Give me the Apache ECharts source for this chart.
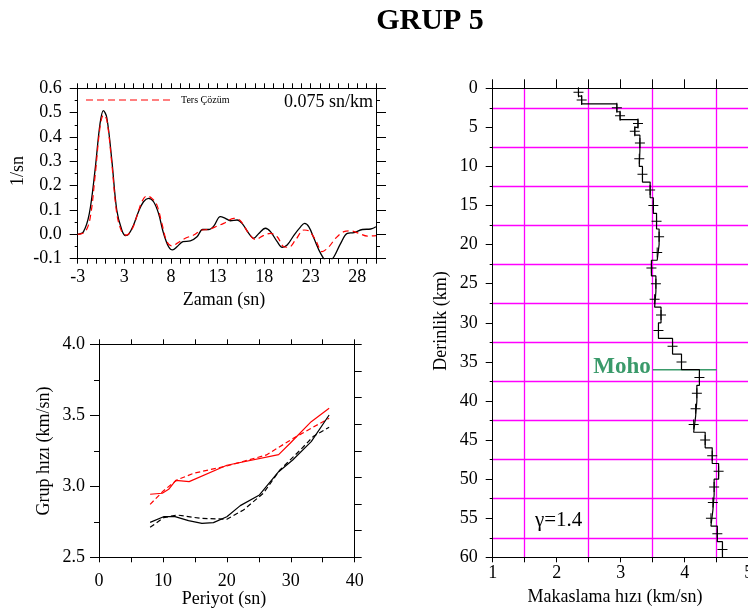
<!DOCTYPE html>
<html><head><meta charset="utf-8">
<script src="https://cdn.jsdelivr.net/npm/echarts@6/dist/echarts.min.js"></script>
<style>html,body{margin:0;padding:0;background:#fff}#c{width:748px;height:611px}</style>
</head><body><div id="c"></div>
<script>
// ---------- Panel 1: receiver function ----------
// time in tick units (left edge of the frame = -2, shown as "-3")
const rfAxisStart = -2;
const rfXTickLabels = ['-3', '3', '8', '13', '18', '23', '28'];
const rfObsTime = [-2, -1.39, -0.75, -0.14, 0.40, 0.76, 1.12, 1.66, 2.19, 2.73, 3.13, 3.48, 3.99, 4.52, 5.06, 5.6, 6.14, 6.67, 7.21, 7.75, 8.18, 8.65, 9.29, 10.08, 10.8, 11.4, 12.05, 12.59, 13.3, 13.84, 14.38, 15.1, 15.63, 16.35, 16.89, 17.43, 18.14, 18.68, 19.4, 19.94, 20.47, 21.19, 21.91, 22.34, 22.8, 23.34, 24.06, 24.77, 25.13, 25.49, 26.21, 26.92, 27.64, 28.54, 29.43, 30.0];
const rfObsAmp = [0, 0.01, 0.086, 0.264, 0.456, 0.508, 0.48, 0.305, 0.1, 0.018, -0.005, 0.001, 0.038, 0.093, 0.134, 0.148, 0.134, 0.086, 0.004, -0.051, -0.064, -0.051, -0.03, -0.027, -0.01, 0.02, 0.02, 0.034, 0.073, 0.066, 0.056, 0.059, 0.045, 0.004, -0.016, 0.004, 0.025, 0.011, -0.03, -0.053, -0.044, -0.004, 0.031, 0.045, 0.031, -0.016, -0.078, -0.112, -0.108, -0.092, -0.037, 0.004, 0.007, 0.02, 0.022, 0.031];
const rfInvTime = [-2, -1.21, -0.67, -0.14, 0.4, 0.76, 1.12, 1.66, 2.19, 2.73, 3.2, 3.81, 4.34, 4.88, 5.42, 5.96, 6.49, 7.03, 7.57, 8.11, 8.65, 9.54, 10.44, 11.33, 12.05, 12.95, 13.66, 14.74, 15.45, 16.35, 17.07, 17.96, 18.68, 19.4, 20.11, 20.65, 21.37, 22.27, 22.8, 23.52, 24.23, 24.95, 25.67, 26.56, 27.28, 28.18, 29.08, 30.0];
const rfInvAmp = [0, 0.01, 0.066, 0.237, 0.442, 0.49, 0.47, 0.29, 0.086, 0.011, -0.003, 0.02, 0.073, 0.134, 0.158, 0.148, 0.121, 0.045, -0.03, -0.048, -0.037, -0.016, -0.003, 0.018, 0.02, 0.034, 0.045, 0.066, 0.056, 0.004, -0.021, -0.004, 0.004, -0.01, -0.051, -0.053, -0.023, 0.018, 0.014, -0.023, -0.071, -0.051, -0.016, 0.011, 0.014, 0.004, -0.007, -0.005];
const rfLegendName = 'Ters Çözüm';
const slownessText = '0.075 sn/km';

// ---------- Panel 2: group velocity dispersion ----------
const redSolidPeriod = [8, 9.9, 10.9, 12, 14.1, 20, 28.1, 29.9, 33.2, 36];
const redSolidVel = [2.944, 2.951, 2.979, 3.042, 3.033, 3.148, 3.223, 3.303, 3.455, 3.549];
const redDashPeriod = [8, 10.1, 12.2, 14.8, 20, 26.2, 30.4, 36];
const redDashVel = [2.873, 2.969, 3.045, 3.092, 3.143, 3.221, 3.338, 3.479];
const blackSolidPeriod = [8, 10.1, 11.9, 14, 16.1, 17.9, 20, 22.1, 25.1, 28.1, 30.3, 33.2, 36];
const blackSolidVel = [2.746, 2.786, 2.786, 2.758, 2.739, 2.744, 2.786, 2.864, 2.939, 3.103, 3.185, 3.315, 3.502];
const blackDashPeriod = [8, 10.1, 12.2, 15.8, 20, 22.6, 25.7, 28.3, 31.5, 33.5, 36];
const blackDashVel = [2.711, 2.779, 2.798, 2.775, 2.768, 2.833, 2.951, 3.115, 3.256, 3.35, 3.416];

// ---------- Panel 3: shear-velocity model ----------
const layerBounds = [0, 1, 2, 3, 4, 5, 6, 8, 10, 12, 14, 16, 18, 20, 22, 24, 26, 28, 30, 32, 34, 36, 38, 40, 42, 44, 46, 48, 50, 52, 54, 56, 58, 60];
const layerVs = [2.34, 2.39, 2.94, 2.99, 3.27, 3.22, 3.30, 3.29, 3.34, 3.46, 3.51, 3.56, 3.60, 3.57, 3.48, 3.55, 3.53, 3.63, 3.59, 3.81, 3.95, 4.23, 4.19, 4.17, 4.14, 4.32, 4.43, 4.53, 4.46, 4.44, 4.41, 4.51, 4.59];
const mohoDepth = 36;
const mohoVsRange = [3.5, 4.5];
const gammaText = 'γ=1.4';

// ---------- build ----------
const SERIF = '"Liberation Serif", "DejaVu Serif", serif';
const pair = (xs, ys, off) => xs.map((x, i) => [x - (off || 0), ys[i]]);
const stepLine = [];
const crosses = [];
layerVs.forEach((v, i) => {
  stepLine.push([v, layerBounds[i]], [v, layerBounds[i + 1]]);
  crosses.push([v, (layerBounds[i] + layerBounds[i + 1]) / 2]);
});

const lbl = (extra) => Object.assign({ color: '#000', fontFamily: SERIF, fontSize: 18 }, extra);
const axLine = { show: true, onZero: false, lineStyle: { color: '#000', width: 1 } };
const noSplit = { show: false };
const tick = (len) => ({ show: true, length: len, lineStyle: { color: '#000', width: 1 } });
const minor = (n, len) => ({ show: true, splitNumber: n, length: len, lineStyle: { color: '#000', width: 1 } });

const chart = echarts.init(document.getElementById('c'), null, { renderer: 'canvas' });
const option = {
  backgroundColor: '#fff',
  animation: false,
  grid: [
    { left: 77.7, top: 88.3, width: 298.3, height: 170.4, outerBoundsMode: 'none', containLabel: false },
    { left: 99, top: 344.3, width: 255.7, height: 213, outerBoundsMode: 'none', containLabel: false },
    { left: 492.7, top: 88.3, width: 256, height: 469, outerBoundsMode: 'none', containLabel: false }
  ],
  xAxis: [
    { gridIndex: 0, type: 'value', position: 'bottom', min: 0, max: 32, interval: 5,
      axisLine: axLine, splitLine: noSplit, axisTick: tick(5), minorTick: minor(5, 5),
      axisLabel: lbl({ margin: 10, formatter: v => rfXTickLabels[v / 5] !== undefined ? rfXTickLabels[v / 5] : '' }) },
    { gridIndex: 0, type: 'value', position: 'top', min: 0, max: 32, interval: 5,
      axisLine: axLine, splitLine: noSplit, axisLabel: { show: false },
      axisTick: tick(5), minorTick: minor(5, 5) },
    { gridIndex: 1, type: 'value', position: 'bottom', min: 0, max: 40, interval: 10,
      axisLine: axLine, splitLine: noSplit, axisTick: tick(5), minorTick: minor(2, 5),
      axisLabel: lbl({ margin: 15 }) },
    { gridIndex: 1, type: 'value', position: 'top', min: 0, max: 40, interval: 5,
      axisLine: axLine, splitLine: noSplit, axisLabel: { show: false }, axisTick: tick(5) },
    { gridIndex: 2, type: 'value', position: 'bottom', min: 1, max: 5, interval: 1,
      axisLine: axLine, splitLine: noSplit, axisTick: tick(5), minorTick: minor(2, 5),
      minorSplitLine: { show: true, lineStyle: { color: '#ff00ff', width: 1.3 } },
      axisLabel: lbl({ margin: 7 }) },
    { gridIndex: 2, type: 'value', position: 'top', min: 1, max: 5, interval: 0.5,
      axisLine: axLine, splitLine: noSplit, axisLabel: { show: false }, axisTick: tick(9) }
  ],
  yAxis: [
    { gridIndex: 0, type: 'value', position: 'left', min: -0.1, max: 0.6, interval: 0.1,
      axisLine: axLine, splitLine: noSplit, axisTick: tick(8), minorTick: minor(2, 3),
      axisLabel: lbl({ margin: 16, formatter: v => (Math.abs(v) < 1e-9 ? 0 : v).toFixed(1) }) },
    { gridIndex: 0, type: 'value', position: 'right', min: -0.1, max: 0.6, interval: 0.1,
      axisLine: axLine, splitLine: noSplit, axisLabel: { show: false },
      axisTick: tick(10), minorTick: minor(2, 4) },
    { gridIndex: 1, type: 'value', position: 'left', min: 2.5, max: 4.0, interval: 0.5,
      axisLine: axLine, splitLine: noSplit, axisTick: tick(9), minorTick: minor(2, 5),
      axisLabel: lbl({ margin: 14, formatter: v => v.toFixed(1) }) },
    { gridIndex: 1, type: 'value', position: 'right', min: 0, max: 8, interval: 1,
      axisLine: axLine, splitLine: noSplit, axisLabel: { show: false }, axisTick: tick(7) },
    { gridIndex: 2, type: 'value', position: 'left', min: 0, max: 60, interval: 5, inverse: true,
      axisLine: axLine, splitLine: noSplit, axisTick: tick(7), minorTick: minor(2, 3),
      minorSplitLine: { show: true, lineStyle: { color: '#ff00ff', width: 1.3 } },
      axisLabel: lbl({ margin: 15 }) }
  ],
  series: [
    { type: 'line', xAxisIndex: 0, yAxisIndex: 0, data: pair(rfObsTime, rfObsAmp, rfAxisStart),
      smooth: 0.35, symbol: 'none', lineStyle: { color: '#000', width: 1.3 }, z: 3 },
    { name: rfLegendName, type: 'line', xAxisIndex: 0, yAxisIndex: 0, data: pair(rfInvTime, rfInvAmp, rfAxisStart),
      smooth: 0.35, symbol: 'none', itemStyle: { color: '#ff0000' },
      lineStyle: { color: '#ff0000', width: 1.2, type: [6, 4] }, z: 4 },

    { type: 'line', xAxisIndex: 2, yAxisIndex: 2, data: pair(redSolidPeriod, redSolidVel), symbol: 'none',
      lineStyle: { color: '#ff0000', width: 1.2 } },
    { type: 'line', xAxisIndex: 2, yAxisIndex: 2, data: pair(redDashPeriod, redDashVel), symbol: 'none',
      lineStyle: { color: '#ff0000', width: 1.2, type: [5, 3] } },
    { type: 'line', xAxisIndex: 2, yAxisIndex: 2, data: pair(blackSolidPeriod, blackSolidVel), symbol: 'none',
      lineStyle: { color: '#000', width: 1.2 } },
    { type: 'line', xAxisIndex: 2, yAxisIndex: 2, data: pair(blackDashPeriod, blackDashVel), symbol: 'none',
      lineStyle: { color: '#000', width: 1.2, type: [5, 3] } },

    { type: 'line', xAxisIndex: 4, yAxisIndex: 4, data: stepLine, symbol: 'none',
      lineStyle: { color: '#000', width: 1.2 }, z: 4 },
    { type: 'scatter', xAxisIndex: 4, yAxisIndex: 4, data: crosses,
      symbol: 'path://M0,4.5L10,4.5L10,5.5L0,5.5Z M4.5,0L5.5,0L5.5,10L4.5,10Z',
      symbolSize: [10, 10], itemStyle: { color: '#000', opacity: 1 }, z: 5 },
    { type: 'line', xAxisIndex: 4, yAxisIndex: 4, data: mohoVsRange.map(v => [v, mohoDepth]), symbol: 'none',
      lineStyle: { color: '#3a9a6a', width: 1.5 }, z: 3 }
  ],
  graphic: []
};
chart.setOption(option);

const mohoPx = chart.convertToPixel({ gridIndex: 2 }, [mohoVsRange[0], mohoDepth]);
const txt = (text, x, y, opts) => Object.assign({
  type: 'text', x: x, y: y, silent: true,
  style: Object.assign({ text: text, fill: '#000', font: '18px ' + SERIF, align: 'center', verticalAlign: 'middle' }, opts && opts.style || {})
}, opts && opts.el || {});

chart.setOption({
  graphic: [
    txt('GRUP 5', 430, 21, { style: { font: 'bold 30px ' + SERIF } }),
    { type: 'line', silent: true, shape: { x1: 86, y1: 100, x2: 170, y2: 100 },
      style: { stroke: '#ff0000', lineWidth: 1.2, lineDash: [7, 4] } },
    txt(rfLegendName, 181, 100, { style: { align: 'left', font: '10px ' + SERIF } }),
    txt(slownessText, 373, 102, { style: { align: 'right' } }),
    txt('1/sn', 18.5, 171, { el: { rotation: Math.PI / 2 } }),
    txt('Zaman (sn)', 224, 300),
    txt('Grup hızı (km/sn)', 44, 451, { el: { rotation: Math.PI / 2 } }),
    txt('Periyot (sn)', 224, 599),
    txt('Derinlik (km)', 441, 321, { el: { rotation: Math.PI / 2 } }),
    txt('Makaslama hızı (km/sn)', 615, 597),
    txt(gammaText, 535, 520, { style: { align: 'left', font: '21px ' + SERIF } }),
    txt('Moho', mohoPx[0] - 2, mohoPx[1] - 3, { style: { align: 'right', fill: '#3a9a6a', font: 'bold 23px ' + SERIF } })
  ]
});
</script>
</body></html>
